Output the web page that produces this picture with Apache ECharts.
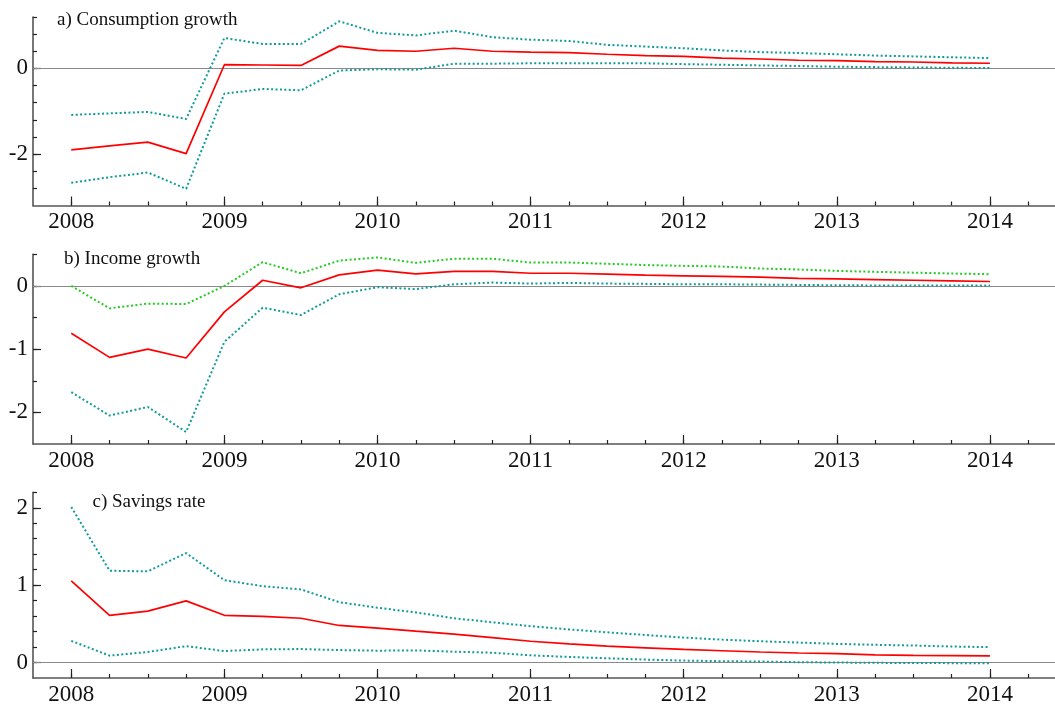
<!DOCTYPE html>
<html>
<head>
<meta charset="utf-8">
<script src="https://cdn.jsdelivr.net/npm/echarts@6/dist/echarts.min.js"></script>
<style>
html,body{margin:0;padding:0;background:#fff;}
#chart{width:1055px;height:706px;}
</style>
</head>
<body>
<div id="chart"></div>
<script>
// ---- data ----
var quarters = [2008, 2008.25, 2008.5, 2008.75, 2009, 2009.25, 2009.5, 2009.75, 2010, 2010.25, 2010.5, 2010.75,
  2011, 2011.25, 2011.5, 2011.75, 2012, 2012.25, 2012.5, 2012.75, 2013, 2013.25, 2013.5, 2013.75, 2014];
var yearTicks = [2008, 2009, 2010, 2011, 2012, 2013, 2014];
var quarterTicks = [2008, 2008.25, 2008.5, 2008.75, 2009, 2009.25, 2009.5, 2009.75, 2010, 2010.25, 2010.5, 2010.75,
  2011, 2011.25, 2011.5, 2011.75, 2012, 2012.25, 2012.5, 2012.75, 2013, 2013.25, 2013.5, 2013.75, 2014, 2014.25];

var titles = ['a) Consumption growth', 'b) Income growth', 'c) Savings rate'];

var consMean  = [-1.90, -1.81, -1.72, -1.99, 0.086, 0.08, 0.07, 0.52, 0.42, 0.40, 0.47, 0.40, 0.38, 0.37, 0.33, 0.30, 0.28, 0.24, 0.22, 0.19, 0.18, 0.16, 0.15, 0.13, 0.12];
var consUpper = [-1.085, -1.05, -1.016, -1.18, 0.71, 0.57, 0.57, 1.10, 0.83, 0.77, 0.88, 0.73, 0.67, 0.64, 0.55, 0.51, 0.47, 0.42, 0.38, 0.36, 0.33, 0.30, 0.28, 0.26, 0.24];
var consLower = [-2.67, -2.54, -2.43, -2.81, -0.59, -0.48, -0.51, -0.05, -0.02, -0.03, 0.11, 0.11, 0.12, 0.12, 0.12, 0.12, 0.10, 0.085, 0.07, 0.055, 0.04, 0.03, 0.023, 0.015, 0.008];

var incMean  = [-0.75, -1.13, -1.0, -1.14, -0.41, 0.09, -0.03, 0.175, 0.25, 0.19, 0.23, 0.23, 0.20, 0.20, 0.185, 0.17, 0.16, 0.15, 0.14, 0.12, 0.11, 0.10, 0.09, 0.08, 0.07];
var incUpper = [0.0, -0.355, -0.28, -0.286, 0.0, 0.376, 0.20, 0.40, 0.45, 0.365, 0.43, 0.43, 0.37, 0.37, 0.35, 0.33, 0.317, 0.307, 0.275, 0.26, 0.238, 0.222, 0.21, 0.196, 0.185];
var incLower = [-1.68, -2.05, -1.915, -2.31, -0.884, -0.344, -0.46, -0.132, -0.021, -0.05, 0.026, 0.053, 0.037, 0.048, 0.037, 0.032, 0.026, 0.026, 0.021, 0.016, 0.01, 0.008, 0.005, 0.005, 0.005];

var savMean  = [1.055, 0.61, 0.665, 0.797, 0.61, 0.597, 0.572, 0.479, 0.445, 0.405, 0.368, 0.322, 0.275, 0.241, 0.212, 0.19, 0.169, 0.152, 0.136, 0.123, 0.114, 0.10, 0.093, 0.089, 0.085];
var savUpper = [2.01, 1.186, 1.178, 1.415, 1.064, 0.987, 0.945, 0.78, 0.708, 0.648, 0.572, 0.52, 0.47, 0.428, 0.39, 0.356, 0.322, 0.296, 0.275, 0.258, 0.241, 0.229, 0.22, 0.207, 0.199];
var savLower = [0.28, 0.089, 0.136, 0.212, 0.148, 0.17, 0.174, 0.161, 0.153, 0.157, 0.14, 0.127, 0.093, 0.072, 0.055, 0.038, 0.025, 0.017, 0.013, 0.004, 0.0, -0.004, -0.006, -0.008, -0.01];

var yRanges = [[-3.2, 1.2], [-2.5, 0.5], [-0.2, 2.2]];
var yMajorTicks = [[-2, 0], [-2, -1, 0], [0, 1, 2]];
var yMinorTicks = [
  [-2.8, -2.4, -2.0, -1.6, -1.2, -0.8, -0.4, 0, 0.4, 0.8, 1.2],
  [-2.0, -1.5, -1.0, -0.5, 0, 0.5],
  [0, 0.2, 0.4, 0.6, 0.8, 1.0, 1.2, 1.4, 1.6, 1.8, 2.0, 2.2]
];

// ---- layout / style ----
var FONT = 'Liberation Serif';
var RED = '#ff0000', TEAL = '#129b9b', GREEN = '#22cc22';
var AXIS = '#555555';
var grids = [
  {left: 33, right: 0, top: 17, height: 188.5},
  {left: 33, right: 0, top: 254.3, height: 189.7},
  {left: 33, right: 0, top: 492.3, height: 189.4}
];
var titlePos = [[57, 20], [64, 259.3], [92.5, 501.6]];
var panels = [
  {mean: consMean, upper: consUpper, lower: consLower, upperColor: TEAL},
  {mean: incMean, upper: incUpper, lower: incLower, upperColor: GREEN},
  {mean: savMean, upper: savUpper, lower: savLower, upperColor: TEAL}
];

var xAxes = [], yAxes = [], series = [], graphics = [];
function pairs(ys) { return quarters.map(function (x, i) { return [x, ys[i]]; }); }

for (var p = 0; p < 3; p++) {
  // major x axis (labels + long ticks)
  xAxes.push({
    type: 'value', gridIndex: p, position: 'bottom', min: 2007.75, max: 2014.425,
    axisLine: {show: true, onZero: false, lineStyle: {color: AXIS, width: 1.6}},
    axisTick: {show: true, inside: true, length: 9, customValues: yearTicks, lineStyle: {color: '#222', width: 1.2}},
    axisLabel: {show: true, customValues: yearTicks, margin: 5, fontFamily: FONT, fontSize: 23, color: '#111',
      formatter: function (v) { return String(Math.round(v)); }},
    splitLine: {show: false}
  });
  // minor x axis (short quarter ticks)
  xAxes.push({
    type: 'value', gridIndex: p, position: 'bottom', min: 2007.75, max: 2014.425,
    axisLine: {show: false, onZero: false},
    axisTick: {show: true, inside: true, length: 4, customValues: quarterTicks, lineStyle: {color: '#222', width: 1.2}},
    axisLabel: {show: false},
    splitLine: {show: false}
  });
  yAxes.push({
    type: 'value', gridIndex: p, position: 'left', min: yRanges[p][0], max: yRanges[p][1],
    axisLine: {show: true, onZero: false, lineStyle: {color: AXIS, width: 1.6}},
    axisTick: {show: true, inside: true, length: 8, customValues: yMajorTicks[p], lineStyle: {color: '#222', width: 1.2}},
    axisLabel: {show: true, customValues: yMajorTicks[p], margin: 5, fontFamily: FONT, fontSize: 23, color: '#111',
      formatter: function (v) { return String(Math.round(v)); }},
    splitLine: {show: false}
  });
  yAxes.push({
    type: 'value', gridIndex: p, position: 'left', min: yRanges[p][0], max: yRanges[p][1],
    axisLine: {show: false, onZero: false},
    axisTick: {show: true, inside: true, length: 4, customValues: yMinorTicks[p], lineStyle: {color: '#222', width: 1.2}},
    axisLabel: {show: false},
    splitLine: {show: false}
  });
  var xi = p * 2, yi = p * 2;
  series.push({
    type: 'line', xAxisIndex: xi, yAxisIndex: yi, data: pairs(panels[p].upper),
    symbol: 'none', silent: true, lineStyle: {color: panels[p].upperColor, width: 2, type: [2, 2.4]}, z: 3
  });
  series.push({
    type: 'line', xAxisIndex: xi, yAxisIndex: yi, data: pairs(panels[p].lower),
    symbol: 'none', silent: true, lineStyle: {color: TEAL, width: 2, type: [2, 2.4]}, z: 3
  });
  series.push({
    type: 'line', xAxisIndex: xi, yAxisIndex: yi, data: pairs(panels[p].mean),
    symbol: 'none', silent: true, lineStyle: {color: RED, width: 1.7}, z: 4,
    markLine: {silent: true, symbol: 'none', label: {show: false}, animation: false,
      lineStyle: {color: '#8a8a8a', width: 1, type: 'solid'}, data: [{yAxis: 0}], z: 2}
  });
  graphics.push({
    type: 'text', left: titlePos[p][0], top: titlePos[p][1] - 11,
    style: {text: titles[p], font: '19px "' + FONT + '"', fill: '#111', lineHeight: 22}
  });
}

var chart = echarts.init(document.getElementById('chart'), null, {renderer: 'canvas'});
chart.setOption({
  animation: false,
  backgroundColor: '#ffffff',
  grid: grids,
  xAxis: xAxes,
  yAxis: yAxes,
  series: series,
  graphic: graphics
});
</script>
</body>
</html>
